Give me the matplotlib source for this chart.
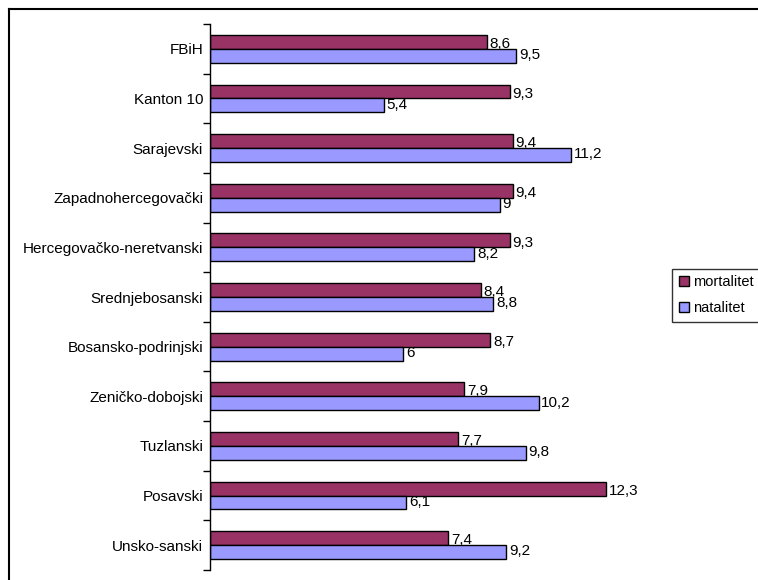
import matplotlib

matplotlib.use("Agg")
import matplotlib.pyplot as plt
from matplotlib.lines import Line2D
import numpy as np

plt.rcParams["font.family"] = ["Liberation Sans", "DejaVu Sans"]

# Kantoni, odozgo prema dolje
kantoni = [
    "FBiH", "Kanton 10", "Sarajevski", "Zapadnohercegovački",
    "Hercegovačko-neretvanski", "Srednjebosanski", "Bosansko-podrinjski",
    "Zeničko-dobojski", "Tuzlanski", "Posavski", "Unsko-sanski",
]
mortalitet = [8.6, 9.3, 9.4, 9.4, 9.3, 8.4, 8.7, 7.9, 7.7, 12.3, 7.4]
natalitet = [9.5, 5.4, 11.2, 9, 8.2, 8.8, 6, 10.2, 9.8, 6.1, 9.2]

COR_MORT = "#993366"
COR_NAT = "#9999FF"


def fmt(v):
    s = f"{v:g}"
    return s.replace(".", ",")


fig = plt.figure(figsize=(7.58, 5.80), dpi=100)
ax = fig.add_axes([0.277, 0.0172, 0.595, 0.9414])

y = np.arange(len(kantoni))
h = 0.28
b1 = ax.barh(y - h / 2, mortalitet, h, color=COR_MORT, edgecolor="black",
             linewidth=1.0, label="mortalitet")
b2 = ax.barh(y + h / 2, natalitet, h, color=COR_NAT, edgecolor="black",
             linewidth=1.0, label="natalitet")

for barras, vals, dy in ((b1, mortalitet, -1.5), (b2, natalitet, 0.5)):
    for b, v in zip(barras, vals):
        ax.annotate(fmt(v), xy=(b.get_width(), b.get_y() + b.get_height() / 2),
                    xytext=(2, dy), textcoords="offset points",
                    ha="left", va="center", fontsize=11)

ax.set_xlim(0, 14)
ax.set_ylim(len(kantoni) - 0.5, -0.5)
ax.set_yticks(y)
ax.set_yticklabels(kantoni, fontsize=11)
ax.tick_params(axis="y", which="major", length=0, pad=5)
ax.set_yticks(np.arange(-0.5, len(kantoni)), minor=True)
ax.tick_params(axis="y", which="minor", length=5, width=1, direction="out")
ax.set_xticks([])
for s in ("top", "right", "bottom"):
    ax.spines[s].set_visible(False)
ax.spines["left"].set_linewidth(1)

leg = ax.legend(loc="upper left", bbox_to_anchor=(0.887, 0.537),
                bbox_transform=fig.transFigure, fontsize=10.5,
                fancybox=False, shadow=False, frameon=True,
                handlelength=0.7, handleheight=0.7, handletextpad=0.3,
                borderpad=0.45, labelspacing=0.85, borderaxespad=0)
leg.get_frame().set_edgecolor("black")
leg.get_frame().set_linewidth(1)

# okvir (samo gornji i lijevi rub vidljiv)
fig.add_artist(Line2D([0.0115, 1.0], [0.9845, 0.9845], color="black", lw=1.5,
                      transform=fig.transFigure))
fig.add_artist(Line2D([0.0115, 0.0115], [0.0, 0.9845], color="black", lw=1.5,
                      transform=fig.transFigure))

fig.savefig("out.png", dpi=100)
plt.close(fig)
